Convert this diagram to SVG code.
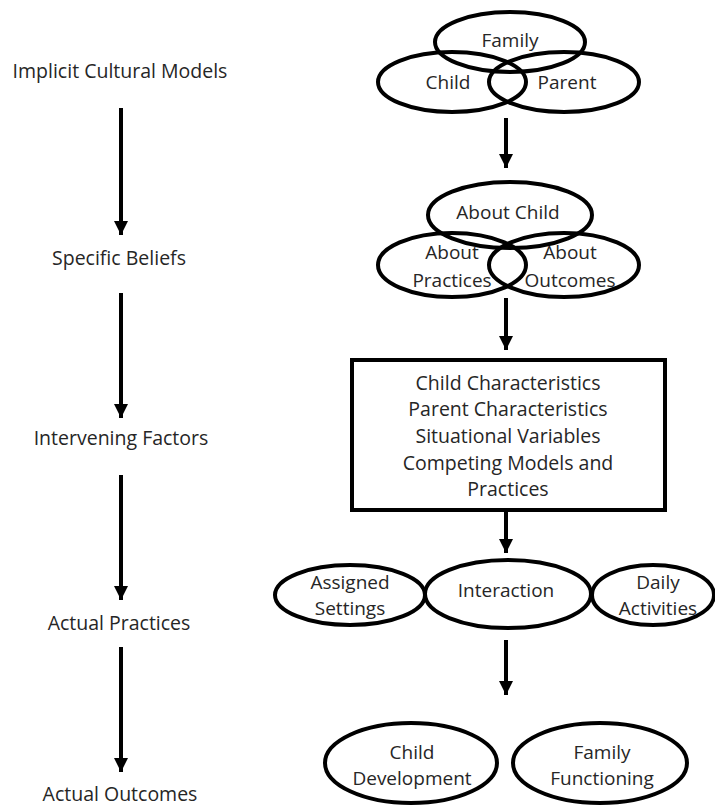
<svg xmlns="http://www.w3.org/2000/svg" width="715" height="806" viewBox="0 0 715 806">
<style>
  text { font-family: "Open Sans", "Liberation Sans", sans-serif; font-size: 19.5px; fill: #262626; text-anchor: middle; dominant-baseline: central; }
  .in { font-size: 19px; }
  .shape { fill: none; stroke: #000; stroke-width: 4; }
  .conn { stroke: #000; stroke-width: 4; fill: none; marker-end: url(#ah); }
</style>
<defs>
  <marker id="ah" viewBox="0 0 10 10" refX="10" refY="5" markerUnits="userSpaceOnUse" markerWidth="15" markerHeight="14" orient="auto">
    <path d="M0,0 L10,5 L0,10 Z" fill="#000"/>
  </marker>
</defs>
<rect width="715" height="806" fill="#fff"/>

<g id="labels">
  <g id="lbl-implicit"><text x="120" y="70">Implicit Cultural Models</text></g>
  <g id="lbl-beliefs"><text x="119" y="257">Specific Beliefs</text></g>
  <g id="lbl-intervening"><text x="121" y="437">Intervening Factors</text></g>
  <g id="lbl-practices"><text x="119" y="622">Actual Practices</text></g>
  <g id="lbl-outcomes"><text x="120" y="793">Actual Outcomes</text></g>
</g>

<g id="connectors">
  <line class="conn" x1="121" y1="108" x2="121" y2="235"/>
  <line class="conn" x1="121" y1="293" x2="121" y2="418"/>
  <line class="conn" x1="121" y1="475" x2="121" y2="600"/>
  <line class="conn" x1="121" y1="647" x2="121" y2="772"/>
  <line class="conn" x1="506" y1="118" x2="506" y2="168"/>
  <line class="conn" x1="506" y1="298" x2="506" y2="350"/>
  <line class="conn" x1="506" y1="510" x2="506" y2="553"/>
  <line class="conn" x1="506" y1="640" x2="506" y2="695"/>
</g>

<g id="family"><ellipse class="shape" cx="510" cy="42" rx="75" ry="30"/><text class="in" x="510" y="40">Family</text></g>
<g id="child"><ellipse class="shape" cx="452" cy="82" rx="74" ry="30"/><text class="in" x="448" y="82">Child</text></g>
<g id="parent"><ellipse class="shape" cx="564" cy="82" rx="75" ry="30"/><text class="in" x="567" y="82">Parent</text></g>

<g id="about-child"><ellipse class="shape" cx="510" cy="215" rx="82" ry="33"/><text class="in" x="508" y="212">About Child</text></g>
<g id="about-practices"><ellipse class="shape" cx="452" cy="265" rx="74" ry="32"/><text class="in" x="452" y="252">About</text><text class="in" x="452" y="280">Practices</text></g>
<g id="about-outcomes"><ellipse class="shape" cx="564" cy="265" rx="75" ry="32"/><text class="in" x="570" y="252">About</text><text class="in" x="570" y="280">Outcomes</text></g>

<g id="factors">
  <rect class="shape" x="352" y="360" width="313" height="150"/>
  <text x="508" y="382">Child Characteristics</text>
  <text x="508" y="408">Parent Characteristics</text>
  <text x="508" y="435">Situational Variables</text>
  <text x="508" y="462">Competing Models and</text>
  <text x="508" y="488">Practices</text>
</g>

<g id="assigned"><ellipse class="shape" cx="350" cy="595" rx="75" ry="30"/><text class="in" x="350" y="582">Assigned</text><text class="in" x="350" y="608">Settings</text></g>
<g id="interaction"><ellipse class="shape" cx="508" cy="594" rx="83" ry="34"/><text class="in" x="506" y="590">Interaction</text></g>
<g id="daily"><ellipse class="shape" cx="653" cy="595" rx="61" ry="30"/><text class="in" x="658" y="582">Daily</text><text class="in" x="658" y="608">Activities</text></g>

<g id="child-dev"><ellipse class="shape" cx="411" cy="763" rx="86" ry="40"/><text class="in" x="412" y="752">Child</text><text class="in" x="412" y="778">Development</text></g>
<g id="family-func"><ellipse class="shape" cx="600" cy="763" rx="87" ry="40"/><text class="in" x="602" y="752">Family</text><text class="in" x="602" y="778">Functioning</text></g>
</svg>
